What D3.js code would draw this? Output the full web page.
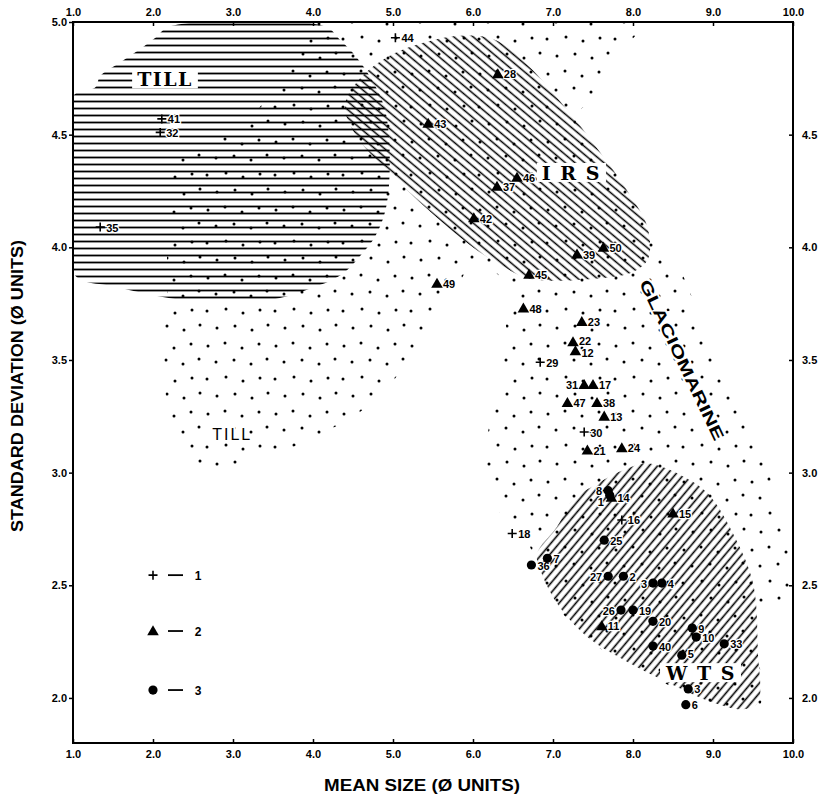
<!DOCTYPE html>
<html>
<head>
<meta charset="utf-8">
<script src="https://cdn.jsdelivr.net/npm/d3@7"></script>
<style>
  body { margin: 0; background: #fff; }
  text { font-family: "Liberation Sans", Arial, sans-serif; fill: #000; }
</style>
</head>
<body>
<svg id="chart" width="819" height="797"></svg>
<script>
// ---- axis ticks ----
const xTicks = [1, 2, 3, 4, 5, 6, 7, 8, 9, 10];
const yTicksLeft = [2.0, 2.5, 3.0, 3.5, 4.0, 4.5, 5.0];
const yTicksRight = [2.0, 2.5, 3.0, 3.5, 4.0, 4.5];

// ---- samples: [number, mean size (phi), standard deviation (phi)] ----
const plusSamples = [
  ["44", 5.03, 4.93], ["41", 2.11, 4.57], ["32", 2.09, 4.51], ["35", 1.34, 4.09],
  ["29", 6.84, 3.49], ["30", 7.39, 3.18], ["18", 6.49, 2.73], ["16", 7.86, 2.79]
];
const triangleSamples = [
  ["28", 6.31, 4.77], ["43", 5.44, 4.55], ["46", 6.55, 4.31], ["37", 6.30, 4.27],
  ["42", 6.01, 4.13], ["39", 7.30, 3.97], ["50", 7.63, 4.00], ["45", 6.70, 3.88],
  ["49", 5.55, 3.84], ["48", 6.63, 3.73], ["23", 7.36, 3.67], ["22", 7.25, 3.58],
  ["12", 7.28, 3.54], ["31", 7.39, 3.39], ["17", 7.50, 3.39], ["47", 7.18, 3.31],
  ["38", 7.55, 3.31], ["13", 7.64, 3.25], ["21", 7.43, 3.10], ["24", 7.86, 3.11],
  ["15", 8.50, 2.82], ["11", 7.61, 2.32]
];
const circleSamples = [
  ["8", 7.69, 2.92], ["1", 7.71, 2.90], ["25", 7.64, 2.70], ["7", 6.93, 2.62],
  ["36", 6.73, 2.59], ["27", 7.69, 2.54], ["2", 7.88, 2.54], ["3", 8.25, 2.51],
  ["4", 8.36, 2.51], ["26", 7.85, 2.39], ["19", 8.00, 2.39], ["20", 8.25, 2.34],
  ["9", 8.74, 2.31], ["10", 8.79, 2.27], ["33", 9.14, 2.24], ["40", 8.25, 2.23],
  ["5", 8.61, 2.19], ["3", 8.69, 2.04], ["6", 8.66, 1.97]
];
// triangle 14 sits on top of circles 8 and 1
const triangleOnTop = [["14", 7.73, 2.89]];
// numbers written to the left of their symbol (by symbol set)
const leftLabelled = { triangle: ["31"], circle: ["8", "1", "27", "26", "3@8.25"] };

// ---- legend ----
const legendKeys = ["1", "2", "3"];
const legendY = [2.545, 2.297, 2.035];

// ---- facies fields (outline vertices in phi units) ----
const tillField = [
  [2.21,4.98],[4.15,4.98],[4.34,4.92],[4.53,4.85],[4.74,4.74],[4.90,4.61],[4.96,4.39],
  [4.91,4.17],[4.78,4.05],[4.61,3.97],[4.40,3.89],[4.21,3.85],[3.99,3.82],[3.75,3.79],
  [3.31,3.76],[2.56,3.76],[1.96,3.79],[1.46,3.83],[1.14,3.85],[1.0,3.89],[1.0,4.67],
  [1.28,4.71],[1.34,4.76],[1.59,4.82],[1.84,4.88],[2.03,4.93]
];
const irsField = [
  [4.40,4.63],[4.59,4.75],[4.96,4.85],[5.40,4.91],[5.90,4.94],[6.28,4.92],[6.65,4.82],
  [7.13,4.63],[7.53,4.45],[7.93,4.25],[8.18,4.09],[8.19,3.95],[8.00,3.89],[7.53,3.86],
  [6.71,3.86],[6.40,3.91],[5.96,4.01],[5.46,4.16],[4.96,4.33],[4.53,4.50]
];
const wtsField = [
  [7.875,3.01],[8.18,3.04],[8.59,2.99],[8.93,2.91],[9.25,2.73],[9.50,2.51],[9.56,2.21],
  [9.56,1.98],[9.38,1.95],[9.00,1.98],[8.43,2.07],[7.93,2.16],[7.43,2.27],[7.05,2.42],
  [6.84,2.57],[6.80,2.64],[7.05,2.76],[7.25,2.88],[7.55,2.95]
];
const stippleField = [
  [3.90,5.00],[8.11,5.00],[7.94,4.90],[7.74,4.78],[7.49,4.66],[7.28,4.57],[7.59,4.43],
  [7.96,4.23],[8.21,4.05],[8.34,3.97],[8.56,3.91],[8.84,3.69],[9.21,3.42],[9.59,3.11],
  [9.81,2.86],[9.96,2.61],[9.99,2.43],[9.69,2.41],[9.55,2.32],[9.59,1.97],[9.38,1.94],
  [9.00,1.97],[8.43,2.06],[7.93,2.15],[7.43,2.26],[7.05,2.41],[6.84,2.56],[6.74,2.65],
  [6.59,2.75],[6.36,2.81],[6.24,2.92],[6.11,3.06],[6.18,3.17],[6.28,3.32],[6.36,3.46],
  [6.43,3.59],[6.40,3.71],[6.49,3.81],[6.34,3.87],[6.19,3.91],[5.99,3.92],[5.78,3.81],
  [5.59,3.70],[5.40,3.60],[5.19,3.50],[4.96,3.39],[4.59,3.27],[4.09,3.17],[3.59,3.09],
  [3.09,3.03],[2.56,3.02],[2.40,3.08],[2.26,3.19],[2.16,3.34],[2.14,3.50],[2.15,3.68],
  [2.18,3.81],[2.18,3.99],[2.24,4.10],[2.21,4.25],[2.21,4.41],[2.65,4.45],[3.09,4.54],
  [3.40,4.65],[3.65,4.79],[3.84,4.90]
];

// ---- field names ----
const fieldLabels = [
  { text: "TILL", at: [2.15, 4.745] },
  { text: "I R S", at: [7.23, 4.33] },
  { text: "W T S", at: [8.85, 2.11] }
];

const svg = d3.select("#chart");
const x = d3.scaleLinear().domain([1, 10]).range([73, 793]);
const y = d3.scaleLinear().domain([1.8, 5.0]).range([743, 22]);

// ---- fill patterns ----
const defs = svg.append("defs");
defs.append("clipPath").attr("id", "plot-area").append("rect")
  .attr("x", x(1)).attr("y", y(5)).attr("width", x(10) - x(1)).attr("height", y(1.8) - y(5));

function hatch(id, gap, angle, width) {
  const p = defs.append("pattern").attr("id", id)
    .attr("patternUnits", "userSpaceOnUse")
    .attr("width", 20).attr("height", gap)
    .attr("patternTransform", `rotate(${angle})`);
  p.append("line").attr("x1", 0).attr("x2", 20)
    .attr("y1", gap / 2).attr("y2", gap / 2)
    .attr("stroke", "#000").attr("stroke-width", width);
}
hatch("hatch-till", 7, 0, 1.8);
hatch("hatch-irs", 6.2, 40, 1.5);
hatch("hatch-wts", 6.4, -50, 1.6);

const stippleDots = [
  [4,6],[21,3],[38,8],[55,4],[12,22],[30,20],[47,24],[63,19],
  [3,39],[22,37],[39,41],[56,38],[13,56],[31,54],[48,58],[64,53]
];
const stip = defs.append("pattern").attr("id", "stipple")
  .attr("patternUnits", "userSpaceOnUse").attr("width", 68).attr("height", 68);
stip.selectAll("circle").data(stippleDots).join("circle")
  .attr("cx", d => d[0]).attr("cy", d => d[1]).attr("r", 1.5).attr("fill", "#000");

const outline = d3.line().x(d => x(d[0])).y(d => y(d[1])).curve(d3.curveCatmullRomClosed.alpha(0.5));

const fields = svg.append("g").attr("clip-path", "url(#plot-area)");
fields.append("path").attr("d", outline(stippleField)).attr("fill", "url(#stipple)");
fields.append("path").attr("d", outline(tillField)).attr("fill", "url(#hatch-till)");
fields.append("path").attr("d", outline(irsField)).attr("fill", "url(#hatch-irs)");
fields.append("path").attr("d", outline(wtsField)).attr("fill", "url(#hatch-wts)");

// ---- field names ----
const names = svg.append("g");
fieldLabels.forEach(f => {
  const t = names.append("text")
    .attr("x", x(f.at[0])).attr("y", y(f.at[1]))
    .attr("text-anchor", "middle").attr("dominant-baseline", "central")
    .style("font-family", "'DejaVu Serif', 'Liberation Serif', serif")
    .style("font-weight", "bold").style("font-size", "19px")
    .style("letter-spacing", "1.5px")
    .text(f.text);
  const b = t.node().getBBox();
  names.insert("rect", () => t.node())
    .attr("x", b.x - 5).attr("y", b.y + 1).attr("width", b.width + 10).attr("height", b.height - 3)
    .attr("fill", "#fff");
});
names.append("text")
  .attr("x", x(2.99)).attr("y", y(3.17))
  .attr("text-anchor", "middle").attr("dominant-baseline", "central")
  .style("font-size", "16px").style("letter-spacing", "2px")
  .attr("stroke", "#fff").attr("stroke-width", 4).attr("paint-order", "stroke")
  .text("TILL");
names.append("text")
  .attr("transform", `translate(${x(8.61)},${y(3.50)}) rotate(64.5)`)
  .attr("text-anchor", "middle").attr("dominant-baseline", "central")
  .attr("textLength", 176).attr("lengthAdjust", "spacingAndGlyphs")
  .style("font-size", "16px").style("font-weight", "bold")
  .attr("stroke", "#fff").attr("stroke-width", 4).attr("paint-order", "stroke")
  .text("GLACIOMARINE");

// ---- frame and axes ----
svg.append("rect").attr("x", x(1)).attr("y", y(5)).attr("width", x(10) - x(1)).attr("height", y(1.8) - y(5))
  .attr("fill", "none").attr("stroke", "#000").attr("stroke-width", 2);
const fmt = d3.format(".1f");
function styleAxis(g) {
  g.select(".domain").remove();
  g.selectAll(".tick line").attr("stroke", "#000").attr("stroke-width", 1.5);
  g.selectAll(".tick text").style("font-size", "11px").style("font-weight", "bold")
    .style("font-family", "'Liberation Sans', Arial, sans-serif");
}
svg.append("g").attr("transform", `translate(0,${y(1.8)})`)
  .call(d3.axisBottom(x).tickValues(xTicks).tickFormat(fmt).tickSize(-4).tickPadding(7)).call(styleAxis);
svg.append("g").attr("transform", `translate(0,${y(5)})`)
  .call(d3.axisTop(x).tickValues(xTicks).tickFormat(fmt).tickSize(-4).tickPadding(6)).call(styleAxis);
svg.append("g").attr("transform", `translate(${x(1)},0)`)
  .call(d3.axisLeft(y).tickValues(yTicksLeft).tickFormat(fmt).tickSize(4).tickPadding(2)).call(styleAxis);
svg.append("g").attr("transform", `translate(${x(10)},0)`)
  .call(d3.axisRight(y).tickValues(yTicksRight).tickFormat(fmt).tickSize(-4).tickPadding(9)).call(styleAxis);

svg.append("text").attr("x", 422).attr("y", 791).attr("text-anchor", "middle")
  .attr("textLength", 196).attr("lengthAdjust", "spacingAndGlyphs")
  .style("font-size", "16px").style("font-weight", "bold")
  .text("MEAN SIZE (\u00D8 UNITS)");
svg.append("text").attr("transform", "translate(23,386) rotate(-90)").attr("text-anchor", "middle")
  .attr("textLength", 292).attr("lengthAdjust", "spacingAndGlyphs")
  .style("font-size", "16px").style("font-weight", "bold")
  .text("STANDARD DEVIATION (\u00D8 UNITS)");

// ---- sample symbols ----
const marks = svg.append("g");
const tri = d3.symbol(d3.symbolTriangle, 58);
function drawPlus(g, cx, cy) {
  g.append("path").attr("d", `M${cx - 4.5},${cy}H${cx + 4.5}M${cx},${cy - 4.5}V${cy + 4.5}`)
    .attr("stroke", "#000").attr("stroke-width", 1.6);
}
function drawTri(g, cx, cy) {
  g.append("path").attr("d", tri()).attr("transform", `translate(${cx},${cy + 1})`).attr("fill", "#000");
}
function drawDot(g, cx, cy) {
  g.append("circle").attr("cx", cx).attr("cy", cy).attr("r", 4.6).attr("fill", "#000");
}
function drawLabel(g, d, kind) {
  const [id, mx, my] = d;
  const cx = x(mx), cy = y(my);
  const list = leftLabelled[kind] || [];
  const left = list.includes(id) || list.includes(`${id}@${mx}`);
  let dy = 4.5;
  if (kind === "circle" && id === "1") dy = 11;
  if (kind === "triangle" && id === "22") dy = 3;
  if (kind === "triangle" && id === "12") dy = 6.5;
  if (kind === "circle" && id === "5") dy = 3;
  g.append("text")
    .attr("x", left ? cx - 6 : cx + 6)
    .attr("y", cy + dy)
    .attr("text-anchor", left ? "end" : "start")
    .style("font-size", "11px").style("font-weight", "bold")
    .attr("stroke", "#fff").attr("stroke-width", 2.5).attr("paint-order", "stroke")
    .text(id);
}
const allSets = [
  [plusSamples, drawPlus, "plus"], [triangleSamples, drawTri, "triangle"],
  [circleSamples, drawDot, "circle"], [triangleOnTop, drawTri, "triangle"]
];
allSets.forEach(([set, fn, kind]) => set.forEach(d => drawLabel(marks, d, kind)));
allSets.forEach(([set, fn]) => set.forEach(d => fn(marks, x(d[1]), y(d[2]))));

// ---- legend ----
const legend = svg.append("g");
const legendDraw = [drawPlus, drawTri, drawDot];
legendKeys.forEach((k, i) => {
  const cx = x(2.0), cy = y(legendY[i]);
  legendDraw[i](legend, cx, cy);
  legend.append("line").attr("x1", cx + 15).attr("x2", cx + 30).attr("y1", cy).attr("y2", cy)
    .attr("stroke", "#000").attr("stroke-width", 1.8);
  legend.append("text").attr("x", cx + 45).attr("y", cy + 4.5).attr("text-anchor", "middle")
    .style("font-size", "12px").style("font-weight", "bold").text(k);
});
</script>
</body>
</html>
